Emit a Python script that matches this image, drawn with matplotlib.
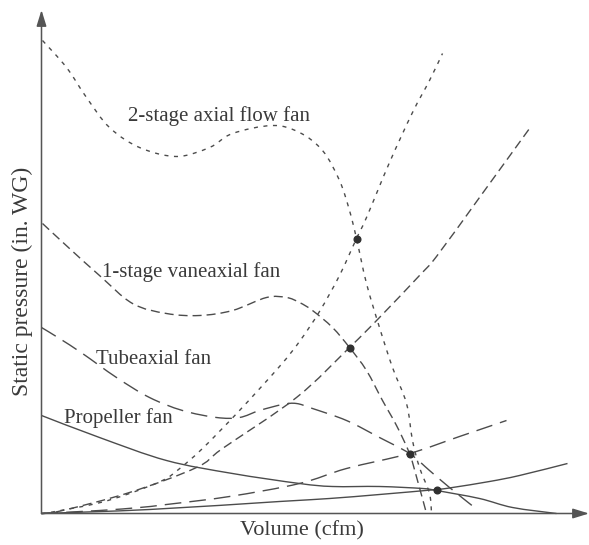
import matplotlib
matplotlib.use("Agg")
import matplotlib.pyplot as plt
import numpy as np
from matplotlib.path import Path
from matplotlib.patches import PathPatch

# ---- data (arbitrary units: volume, static pressure) ----
# 2-stage axial flow fan (fan curve)
two_stage_q = [1, 25, 45, 68, 98, 135, 168, 191, 231, 258, 281, 298, 308, 315, 325, 338, 351, 365, 371, 378, 388, 390]
two_stage_p = [473, 446, 416, 386, 366, 357, 366, 380, 388, 381, 363, 333, 303, 275, 230, 186, 146, 110, 73, 46, 20, 0]
# 2-stage system curve
two_sys_q = [0, 8, 55, 88, 121, 137, 161, 198, 238, 258, 278, 298, 315, 325, 348, 371, 388, 401]
two_sys_p = [0, 1, 10, 20, 33, 44, 65, 103, 147, 172, 202, 238, 275, 296, 351, 401, 433, 460]

# 1-stage vaneaxial fan
one_stage_q = [1, 28, 58, 91, 125, 158, 191, 225, 245, 258, 271, 291, 308, 325, 341, 355, 368, 376, 385]
one_stage_p = [290, 265, 238, 210, 200, 198, 203, 216, 216, 211, 203, 186, 166, 143, 113, 88, 60, 33, 0]
one_sys_q = [0, 21, 88, 155, 181, 255, 308, 338, 378, 395, 438, 488]
one_sys_p = [0, 3, 21, 46, 65, 116, 166, 196, 238, 257, 316, 385]

# Tubeaxial fan
tube_q = [0, 18, 41, 75, 108, 141, 175, 198, 218, 241, 255, 271, 305, 338, 368, 388, 408, 433]
tube_p = [186, 175, 160, 136, 116, 103, 96, 96, 103, 109, 110, 105, 93, 76, 60, 43, 26, 6]
tube_sys_q = [0, 58, 98, 125, 188, 258, 305, 368, 418, 465]
tube_sys_p = [0, 3, 6, 9, 17, 30, 45, 60, 77, 93]

# Propeller fan
prop_q = [0, 58, 125, 191, 258, 291, 338, 381, 395, 438, 471, 515]
prop_p = [98, 76, 53, 40, 30, 27, 27, 25, 23, 15, 6, 0]
prop_sys_q = [0, 108, 238, 288, 338, 395, 411, 448, 478, 526]
prop_sys_p = [0, 4, 12, 15, 19, 24, 26, 32, 38, 50]

# operating points
op_q = [315, 308, 368, 395]
op_p = [275, 166, 60, 24]

labels = ["2-stage axial flow fan", "1-stage vaneaxial fan", "Tubeaxial fan", "Propeller fan"]
label_pos = [(86, 393), (61, 236), (55, 150), (23, 90)]
xlabel = "Volume (cfm)"
ylabel = "Static pressure (in. WG)"

# ---- figure ----
W, H = 589, 545
fig = plt.figure(figsize=(W / 100, H / 100), dpi=100)
ox, oy = 41.5, 513.5
ax = fig.add_axes([ox / W, (H - oy) / H, (W - ox) / W, oy / H])
ax.set_xlim(0, W - ox)
ax.set_ylim(0, oy)
ax.axis("off")

lc = "#4c4c4c"
tc = "#3a3a3a"
lw = 1.0
dot = (2.9, 4.0)
med = (6.5, 3.6)
lng = (12.0, 5.8)


def curve(q, p, dashes=None):
    """Draw a smooth curve through the read points (Bezier path on data axes)."""
    pts = np.column_stack([q, p]).astype(float)
    n = len(pts)
    verts = [pts[0]]
    codes = [Path.MOVETO]
    for i in range(n - 1):
        p0 = pts[max(i - 1, 0)]
        p1 = pts[i]
        p2 = pts[i + 1]
        p3 = pts[min(i + 2, n - 1)]
        verts += [p1 + (p2 - p0) / 6.0, p2 - (p3 - p1) / 6.0, p2]
        codes += [Path.CURVE4] * 3
    ls = "-" if dashes is None else (0, dashes)
    patch = PathPatch(Path(verts, codes), facecolor="none", edgecolor=lc,
                      lw=lw, linestyle=ls, clip_on=False, capstyle="butt")
    ax.add_patch(patch)


curve(two_stage_q, two_stage_p, dot)
curve(two_sys_q, two_sys_p, dot)
curve(one_stage_q, one_stage_p, med)
curve(one_sys_q, one_sys_p, med)
curve(tube_q, tube_p, lng)
curve(tube_sys_q, tube_sys_p, lng)
curve(prop_q, prop_p)
curve(prop_sys_q, prop_sys_p)
ax.plot(op_q, op_p, "o", color="#303030", ms=4.8, clip_on=False, zorder=5)

# axes with arrows
ap = dict(arrowstyle="-|>,head_length=0.65,head_width=0.2", mutation_scale=15,
          color="#555555", lw=1.1, shrinkA=0, shrinkB=0)
ax.annotate("", xy=(W - ox, 0), xytext=(0, 0), arrowprops=ap, annotation_clip=False)
ax.annotate("", xy=(0, oy - 10), xytext=(0, 0), arrowprops=ap, annotation_clip=False)

font = ["Liberation Serif", "DejaVu Serif"]
for t, (x, y) in zip(labels, label_pos):
    ax.text(x, y, t, fontsize=15, family=font, color=tc, ha="left", va="baseline")

fig.text(302 / W, 1 - 531 / H, xlabel, fontsize=16, family=font, color=tc,
         ha="center", va="center")
fig.text(22 / W, 1 - 281 / H, ylabel, fontsize=17, family=font, color=tc,
         ha="center", va="center", rotation=90)

fig.savefig("out.png", dpi=100)
